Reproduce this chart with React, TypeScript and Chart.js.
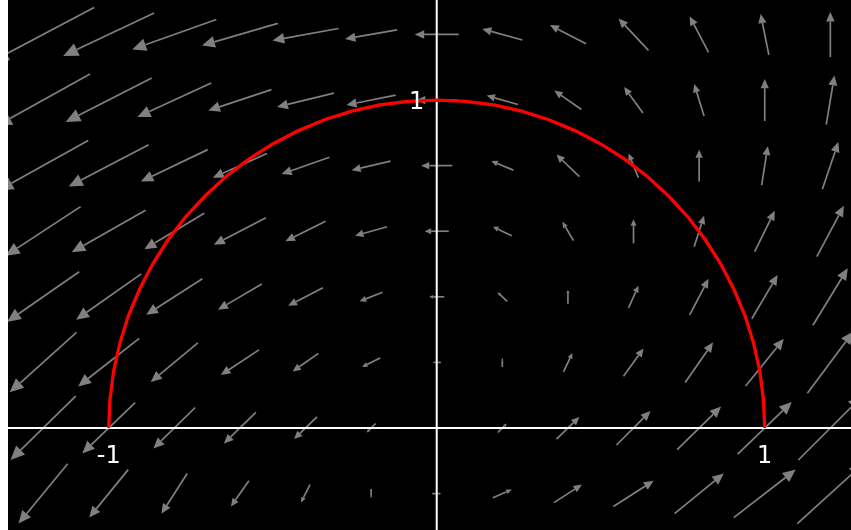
import { useEffect, useRef } from "react";
import { Chart, registerables } from "chart.js";

Chart.register(...registerables);

// grid of arrow centres
const gridX = [-1.2, -1.0, -0.8, -0.6, -0.4, -0.2, 0, 0.2, 0.4, 0.6, 0.8, 1.0, 1.2];
const gridY = [1.2, 1.0, 0.8, 0.6, 0.4, 0.2, 0, -0.2];

// vector field components (one row per gridY value)
const fieldU = [
  [-2.49, -2.22, -2.05, -1.85, -1.61, -1.27, -1.07, -0.98, -0.88, -0.73, -0.46, -0.2, 0],
  [-2.29, -2.1, -1.8, -1.54, -1.39, -1.2, -1.0, -0.76, -0.66, -0.46, -0.24, 0, 0.2],
  [-2.2, -1.95, -1.63, -1.32, -1.17, -0.95, -0.76, -0.54, -0.56, -0.24, 0, 0.15, 0.39],
  [-1.83, -1.8, -1.46, -1.27, -0.98, -0.78, -0.59, -0.46, -0.27, 0, 0.24, 0.49, 0.66],
  [-1.76, -1.59, -1.37, -1.07, -0.85, -0.56, -0.37, -0.24, 0, 0.24, 0.46, 0.63, 0.85],
  [-1.63, -1.49, -1.15, -0.93, -0.63, -0.44, -0.2, 0, 0.22, 0.49, 0.68, 0.93, 1.12],
  [-1.59, -1.29, -1.02, -0.78, -0.56, -0.22, 0, 0.22, 0.56, 0.83, 1.07, 1.32, 1.56],
  [-1.2, -0.95, -0.63, -0.44, -0.22, 0, 0.22, 0.46, 0.68, 0.98, 1.2, 1.51, 1.61],
];
const fieldV = [
  [-1.32, -1.05, -0.73, -0.54, -0.29, -0.22, 0, 0.27, 0.46, 0.78, 0.88, 1.0, 1.1],
  [-1.27, -1.07, -0.83, -0.51, -0.34, -0.24, 0, 0.22, 0.46, 0.63, 0.78, 1.02, 1.2],
  [-1.22, -1.02, -0.78, -0.59, -0.41, -0.22, 0, 0.22, 0.54, 0.59, 0.78, 0.95, 1.15],
  [-1.2, -1.02, -0.88, -0.66, -0.49, -0.22, 0, 0.22, 0.46, 0.59, 0.76, 1.0, 1.24],
  [-1.22, -1.12, -0.88, -0.63, -0.44, -0.22, 0, 0.22, 0.34, 0.54, 0.88, 1.07, 1.39],
  [-1.46, -1.17, -0.95, -0.61, -0.44, -0.22, 0, 0.22, 0.46, 0.68, 0.98, 1.15, 1.51],
  [-1.56, -1.24, -1.0, -0.76, -0.54, -0.22, 0, 0.22, 0.54, 0.83, 1.05, 1.27, 1.56],
  [-1.46, -1.17, -0.98, -0.63, -0.44, -0.22, 0, 0.2, 0.44, 0.63, 0.98, 1.17, 1.46],
];
const ARROW_SCALE = 0.125;

// red semicircle
const curveX = [-1, -0.996, -0.985, -0.966, -0.94, -0.906, -0.866, -0.819, -0.766, -0.707, -0.643, -0.574, -0.5, -0.423, -0.342, -0.259, -0.174, -0.087, 0, 0.087, 0.174, 0.259, 0.342, 0.423, 0.5, 0.574, 0.643, 0.707, 0.766, 0.819, 0.866, 0.906, 0.94, 0.966, 0.985, 0.996, 1];
const curveY = [0, 0.087, 0.174, 0.259, 0.342, 0.423, 0.5, 0.574, 0.643, 0.707, 0.766, 0.819, 0.866, 0.906, 0.94, 0.966, 0.985, 0.996, 1, 0.996, 0.985, 0.966, 0.94, 0.906, 0.866, 0.819, 0.766, 0.707, 0.643, 0.574, 0.5, 0.423, 0.342, 0.259, 0.174, 0.087, 0];

// axis labels
const labelText = ["1", "-1", "1"];
const labelX = [0, -1, 1];
const labelY = [1, 0, 0];

const X_MIN = -1.307;
const X_MAX = 1.263;
const Y_MIN = -0.311;
const Y_MAX = 1.305;

const fieldPlugin = {
  id: "fieldPlugin",
  beforeDraw(chart: any) {
    const { ctx, width, height } = chart;
    ctx.save();
    ctx.fillStyle = "#000000";
    ctx.fillRect(0, 0, width, height);
    ctx.restore();
  },
  beforeDatasetsDraw(chart: any) {
    const { ctx, chartArea } = chart;
    const xs = chart.scales.x;
    const ys = chart.scales.y;
    ctx.save();
    ctx.strokeStyle = "#808080";
    ctx.fillStyle = "#808080";
    ctx.lineWidth = 1.7;
    ctx.lineCap = "butt";
    gridY.forEach((gy, r) => {
      gridX.forEach((gx, c) => {
        const u = fieldU[r][c] * ARROW_SCALE;
        const v = fieldV[r][c] * ARROW_SCALE;
        const x0 = xs.getPixelForValue(gx - u / 2);
        const y0 = ys.getPixelForValue(gy - v / 2);
        const x1 = xs.getPixelForValue(gx + u / 2);
        const y1 = ys.getPixelForValue(gy + v / 2);
        const L = Math.hypot(x1 - x0, y1 - y0);
        if (L < 0.5) return;
        const h = L < 30 ? 0.27 * L : 0.1 * L + 5;
        const w = 0.45 * h;
        const ux = (x1 - x0) / L;
        const uy = (y1 - y0) / L;
        const bx = x1 - ux * h;
        const by = y1 - uy * h;
        ctx.beginPath();
        ctx.moveTo(x0, y0);
        ctx.lineTo(bx, by);
        ctx.stroke();
        ctx.beginPath();
        ctx.moveTo(x1, y1);
        ctx.lineTo(bx - uy * w, by + ux * w);
        ctx.lineTo(bx + uy * w, by - ux * w);
        ctx.closePath();
        ctx.fill();
      });
    });
    // axes
    const px0 = xs.getPixelForValue(0);
    const py0 = ys.getPixelForValue(0);
    ctx.strokeStyle = "#ffffff";
    ctx.lineWidth = 2;
    ctx.beginPath();
    ctx.moveTo(chartArea.left, py0);
    ctx.lineTo(chartArea.right, py0);
    ctx.moveTo(px0, chartArea.top);
    ctx.lineTo(px0, chartArea.bottom);
    ctx.stroke();
    ctx.restore();
  },
  afterDatasetsDraw(chart: any) {
    const { ctx } = chart;
    const xs = chart.scales.x;
    const ys = chart.scales.y;
    ctx.save();
    ctx.fillStyle = "#ffffff";
    ctx.font = '24px "DejaVu Sans"';
    ctx.textAlign = "center";
    ctx.textBaseline = "alphabetic";
    labelText.forEach((t, i) => {
      const px = xs.getPixelForValue(labelX[i]);
      const py = ys.getPixelForValue(labelY[i]);
      if (labelY[i] === 0) {
        ctx.fillText(t, px, py + 35);
      } else {
        ctx.fillText(t, px - 20, py + 8.5);
      }
    });
    ctx.restore();
  },
};

export default function App() {
  const canvasRef = useRef<HTMLCanvasElement | null>(null);

  useEffect(() => {
    if (!canvasRef.current) return;
    const chart = new Chart(canvasRef.current, {
      type: "line",
      data: {
        datasets: [
          {
            data: curveX.map((cx, i) => ({ x: cx, y: curveY[i] })),
            borderColor: "#ff0000",
            borderWidth: 3.3,
            pointRadius: 0,
            fill: false,
            tension: 0,
          },
        ],
      },
      options: {
        responsive: false,
        maintainAspectRatio: false,
        animation: false,
        layout: { padding: 0 },
        plugins: {
          legend: { display: false },
          tooltip: { enabled: false },
        },
        scales: {
          x: { type: "linear", min: X_MIN, max: X_MAX, display: false },
          y: { type: "linear", min: Y_MIN, max: Y_MAX, display: false },
        },
      },
      plugins: [fieldPlugin],
    });
    return () => chart.destroy();
  }, []);

  return (
    <div style={{ position: "fixed", left: 8, top: 0, width: 843, height: 530 }}>
      <canvas ref={canvasRef} width={843} height={530} style={{ display: "block" }} />
    </div>
  );
}
